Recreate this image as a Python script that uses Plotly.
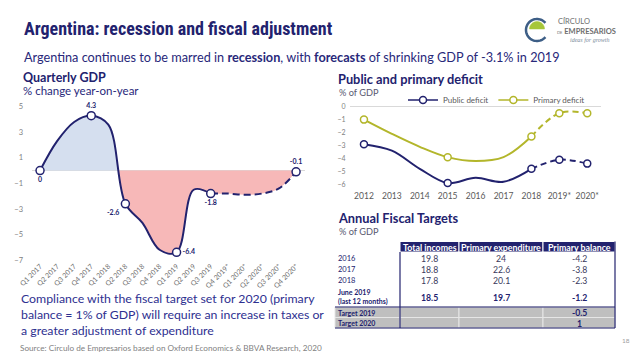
import math
import plotly.graph_objects as go

W, H = 638, 359


def px(x):
    return x / W


def py(y):
    return 1 - y / H


NAVY = "#22226E"
TEXT_NAVY = "#28287A"
OLIVE = "#B3B62B"
GRAY = "#7F7F7F"
BLUE_FILL = "#D5DFEF"
RED_FILL = "#F7B8B8"
ROW_GRAY = "#BFBFBF"
FONT = "Lato, 'Open Sans', sans-serif"
TITLE_FONT = "'Liberation Sans Narrow', 'Roboto Condensed', Lato, sans-serif"

# ---------------- data: quarterly GDP (% y/y) ----------------
quarters = ["Q1 2017", "Q2 2017", "Q3 2017", "Q4 2017",
            "Q1 2018", "Q2 2018", "Q3 2018", "Q4 2018",
            "Q1 2019", "Q2 2019", "Q3 2019", "Q4 2019*",
            "Q1 2020*", "Q2 2020*", "Q3 2020*", "Q4 2020*"]
gdp = [0, 2.3, 3.8, 4.3, 3.6, -2.6, -4.1, -6.2, -6.4, -1.5, -1.8, -1.8, -1.9, -1.8, -1.4, -0.1]
gdp_labels = ["0", "", "", "4.3", "", "-2.6", "", "", "-6.4", "", "-1.8", "", "", "", "", "-0.1"]
gdp_forecast_from = 10
gdp_yticks = [-7, -5, -3, -1, 1, 3, 5]

# ---------------- data: public and primary deficit (% of GDP) ----------------
years = ["2012", "2013", "2014", "2015", "2016", "2017", "2018", "2019*", "2020*"]
public_deficit = [-2.9, -3.4, -4.8, -5.9, -5.5, -5.8, -4.8, -4.1, -4.4]
primary_deficit = [-1.0, -2.1, -3.1, -3.9, -4.2, -3.9, -2.3, -0.5, -0.5]
deficit_marked = [True, False, False, True, False, False, True, True, True]
deficit_forecast_from = 6
deficit_yticks = [0, -1, -2, -3, -4, -5, -6]

# ---------------- data: annual fiscal targets (% of GDP) ----------------
table_headers = ["Total incomes", "Primary expenditure", "Primary balance"]
table_rows = ["2016", "2017", "2018", "June 2019<br>(last 12 months)", "Target 2019", "Target 2020"]
total_incomes = [19.8, 18.8, 17.8, 18.5, None, None]
primary_expenditure = [24, 22.6, 20.1, 19.7, None, None]
primary_balance = [-4.2, -3.8, -2.3, -1.2, -0.5, 1]

fig = go.Figure()

# ---------------- left chart ----------------
xi = list(range(len(gdp)))
pos_x, pos_y, neg_x, neg_y = [], [], [], []
for i, v in enumerate(gdp):
    if v >= 0:
        pos_x.append(i); pos_y.append(v)
    else:
        neg_x.append(i); neg_y.append(v)
    if i < len(gdp) - 1:
        w = gdp[i + 1]
        if (v > 0 > w) or (v < 0 < w):
            xc = i + v / (v - w)
            pos_x.append(xc); pos_y.append(0)
            neg_x.append(xc); neg_y.append(0)

for fx, fy, fc in [(pos_x, pos_y, BLUE_FILL), (neg_x, neg_y, RED_FILL)]:
    fig.add_trace(go.Scatter(x=fx, y=fy, mode="lines", fill="tozeroy", fillcolor=fc,
                             line=dict(width=0, shape="spline", smoothing=1),
                             hoverinfo="skip", showlegend=False, xaxis="x", yaxis="y"))

f = gdp_forecast_from
fig.add_trace(go.Scatter(x=xi[:f + 1], y=gdp[:f + 1], mode="lines", showlegend=False,
                         line=dict(color=NAVY, width=2, shape="spline", smoothing=1),
                         xaxis="x", yaxis="y"))
fig.add_trace(go.Scatter(x=xi[f:], y=gdp[f:], mode="lines", showlegend=False,
                         line=dict(color=NAVY, width=2, dash="7px,4px", shape="spline", smoothing=1),
                         xaxis="x", yaxis="y"))

mk = [i for i, l in enumerate(gdp_labels) if l]
label_pos = []
for i in mk:
    v = gdp[i]
    if i == 0:
        label_pos.append("bottom center")
    elif v > 0 or i == len(gdp) - 1:
        label_pos.append("top center")
    elif v == min(gdp):
        label_pos.append("middle right")
    elif i < gdp_forecast_from and gdp[i + 1] < v:
        label_pos.append("bottom left")
    else:
        label_pos.append("bottom center")
fig.add_trace(go.Scatter(x=mk, y=[gdp[i] for i in mk], mode="markers+text",
                         text=[gdp_labels[i] for i in mk], textposition=label_pos,
                         textfont=dict(size=7, color=NAVY, family=FONT, weight="bold"),
                         marker=dict(size=8, color="white", line=dict(color=NAVY, width=1.5)),
                         cliponaxis=False, showlegend=False, xaxis="x", yaxis="y"))

# ---------------- right chart ----------------
yi = list(range(len(years)))
g = deficit_forecast_from
for name, series, col in [("Public deficit", public_deficit, NAVY),
                          ("Primary deficit", primary_deficit, OLIVE)]:
    fig.add_trace(go.Scatter(x=yi[:g + 1], y=series[:g + 1], mode="lines", showlegend=False,
                             line=dict(color=col, width=2, shape="spline", smoothing=1),
                             xaxis="x2", yaxis="y2"))
    fig.add_trace(go.Scatter(x=yi[g:], y=series[g:], mode="lines", showlegend=False,
                             line=dict(color=col, width=2, dash="6px,4px", shape="spline", smoothing=1),
                             xaxis="x2", yaxis="y2"))
    mi = [i for i, m in enumerate(deficit_marked) if m]
    fig.add_trace(go.Scatter(x=mi, y=[series[i] for i in mi], mode="markers", showlegend=False,
                             marker=dict(size=7, color="white", line=dict(color=col, width=1.5)),
                             cliponaxis=False, xaxis="x2", yaxis="y2"))
    fig.add_trace(go.Scatter(x=[None], y=[None], mode="lines+markers", name=name,
                             line=dict(color=col, width=1.5),
                             marker=dict(size=7, color="white", line=dict(color=col, width=1.5)),
                             xaxis="x2", yaxis="y2"))

# ---------------- layout ----------------
fig.update_layout(
    width=W, height=H, margin=dict(l=0, r=0, t=0, b=0, autoexpand=False),
    paper_bgcolor="white", plot_bgcolor="white",
    font=dict(family=FONT),
    xaxis=dict(domain=[px(31.5), px(304.6)], range=[-0.5, 15.5], tickvals=xi, ticktext=quarters,
               tickangle=-45, tickfont=dict(size=7, color="#707070"), showgrid=False, zeroline=False,
               showline=False, ticks="", anchor="y", fixedrange=True, automargin=False),
    yaxis=dict(domain=[py(260), py(106.7)], range=[-7, 5], tickvals=gdp_yticks,
               tickfont=dict(size=7.5, color=GRAY), showgrid=False, zeroline=True,
               zerolinecolor="#D9D9D9", zerolinewidth=1, showline=False, ticks="outside",
               ticklen=6, tickcolor="rgba(0,0,0,0)", anchor="x", fixedrange=True, automargin=False),
    xaxis2=dict(domain=[px(350), px(601.2)], range=[-0.5, 8.5], tickvals=yi, ticktext=years,
                tickfont=dict(size=8.5, color="#595959"), showgrid=False, zeroline=False,
                showline=False, ticks="", anchor="y2", fixedrange=True, automargin=False),
    yaxis2=dict(domain=[py(189.5), py(102.8)], range=[-6.4, 0.3], tickvals=deficit_yticks,
                tickfont=dict(size=7, color=GRAY), showgrid=False, zeroline=True,
                zerolinecolor="#D9D9D9", zerolinewidth=1, showline=False, ticks="outside",
                ticklen=2, tickcolor="rgba(0,0,0,0)", anchor="x2", fixedrange=True, automargin=False),
    legend=dict(orientation="h", x=px(403), y=py(100), xanchor="left", yanchor="middle",
                font=dict(size=8, color="#595959"), bgcolor="rgba(0,0,0,0)",
                itemwidth=30, tracegroupgap=0),
)

ann = []
shapes = []


def text(x, y, s, size, color=TEXT_NAVY, xanchor="left", family=FONT, yanchor="middle", **kw):
    ann.append(dict(x=px(x), y=py(y), xref="paper", yref="paper", text=s, showarrow=False,
                    xanchor=xanchor, yanchor=yanchor, font=dict(size=size, color=color, family=family),
                    **kw))


text(22, 28, "<b>Argentina: recession and fiscal adjustment</b>", 18, NAVY, family=TITLE_FONT)
text(22, 57, "Argentina continues to be marred in <b>recession</b>, with <b>forecasts</b> of shrinking GDP of -3.1% in 2019",
     12.7)
text(21, 77, "<b>Quarterly GDP</b>", 12.5, NAVY)
text(21, 91, "% change year-on-year", 11.5, TEXT_NAVY)
text(336, 79, "<b>Public and primary deficit</b>", 12.8, NAVY)
text(337, 92, "% of GDP", 9.2, "#595970")
text(336, 218, "<b>Annual Fiscal Targets</b>", 12.8, NAVY)
text(337, 231, "% of GDP", 9.2, "#595970")
text(19, 314, "Compliance with the fiscal target set for 2020 (primary<br>balance = 1% of GDP) will require an increase in taxes or<br>a greater adjustment of expenditure",
     12.3, "#2E3090", align="left")
text(18, 348, "Source: Circulo de Empresarios based on Oxford Economics &amp; BBVA Research, 2020", 8.2, GRAY)
text(626, 340, "18", 6.5, "#A0A0A0", xanchor="center")

# ---------------- table ----------------
col_edges = [335, 400, 459, 543, 615]
header_top, header_bot = 241.5, 252
row_heights = [11.3, 11.3, 11.4, 21, 10.5, 10.5]
row_tops = []
t = header_bot
for h in row_heights:
    row_tops.append(t)
    t += h
table_bottom = t


def rect(x0, y0, x1, y1, fill, line="white", lw=1):
    shapes.append(dict(type="rect", xref="paper", yref="paper", x0=px(x0), x1=px(x1),
                       y0=py(y1), y1=py(y0), fillcolor=fill, line=dict(color=line, width=lw),
                       layer="below"))


def hline(x0, x1, y, color=NAVY, w=1.2):
    shapes.append(dict(type="line", xref="paper", yref="paper", x0=px(x0), x1=px(x1),
                       y0=py(y), y1=py(y), line=dict(color=color, width=w)))


def vline(x, y0, y1, color=NAVY, w=1.2):
    shapes.append(dict(type="line", xref="paper", yref="paper", x0=px(x), x1=px(x),
                       y0=py(y0), y1=py(y1), line=dict(color=color, width=w)))


for c, hdr in enumerate(table_headers):
    x0, x1 = col_edges[c + 1], col_edges[c + 2]
    rect(x0, header_top, x1, header_bot, NAVY)
    text((x0 + x1) / 2, (header_top + header_bot) / 2 + 0.5, "<b>" + hdr + "</b>", 8.8, "white",
         xanchor="center")

columns = [total_incomes, primary_expenditure, primary_balance]
for r, label in enumerate(table_rows):
    top, h = row_tops[r], row_heights[r]
    cy = top + h / 2
    is_target = label.startswith("Target")
    bold = r >= 3
    if is_target:
        for c in range(4):
            rect(col_edges[c], top, col_edges[c + 1], top + h, ROW_GRAY, "#E6E6E6", 1)
    lab = "<b>" + label + "</b>" if bold else label
    text(col_edges[0] + 1, cy + 0.5, lab, 7 if bold else 7.5, NAVY, align="left")
    for c, col in enumerate(columns):
        v = col[r]
        if v is None:
            continue
        s = f"{v:g}"
        if bold:
            s = "<b>" + s + "</b>"
        text((col_edges[c + 1] + col_edges[c + 2]) / 2, cy + 0.5, s, 8.7,
             NAVY if bold else "#3A3A5C", xanchor="center")

first_target = next(i for i, l in enumerate(table_rows) if l.startswith("Target"))
vline(col_edges[1], header_bot, table_bottom)
vline(col_edges[4], header_top, table_bottom)
hline(col_edges[0], col_edges[4], row_tops[first_target])
hline(col_edges[0], col_edges[4], table_bottom)

# ---------------- logo ----------------
def arc_points(cx, cy, r, a0, a1, n=48):
    pts = []
    for k in range(n + 1):
        a = math.radians(a0 + (a1 - a0) * k / n)
        pts.append((px(cx + r * math.cos(a)), py(cy - r * math.sin(a))))
    return pts


ring = arc_points(537, 30, 11, 40, 320)
shapes.append(dict(type="path", xref="paper", yref="paper",
                   path="M " + " L ".join(f"{x},{y}" for x, y in ring),
                   line=dict(color="#3D5E86", width=2.5)))
half = arc_points(537, 29, 7.5, 0, 180)
shapes.append(dict(type="path", xref="paper", yref="paper",
                   path="M " + " L ".join(f"{x},{y}" for x, y in half) + " Z",
                   fillcolor="#A6C63A", line=dict(color="#A6C63A", width=0.5)))
text(556, 22, "CÍRCULO", 7.5, "#6E6E6E")
text(555, 31, "<span style='font-size:4px'>DE</span> <b>EMPRESARIOS</b>", 7.5, "#6E6E6E")
text(568, 40, "<i>ideas for growth</i>", 6, "#7A8B9A", family="'Liberation Serif', serif")

fig.update_layout(annotations=ann, shapes=shapes)
fig.write_html("out.html", config={"displayModeBar": False},
               post_script="document.body.style.margin='0';document.body.style.padding='0';")
